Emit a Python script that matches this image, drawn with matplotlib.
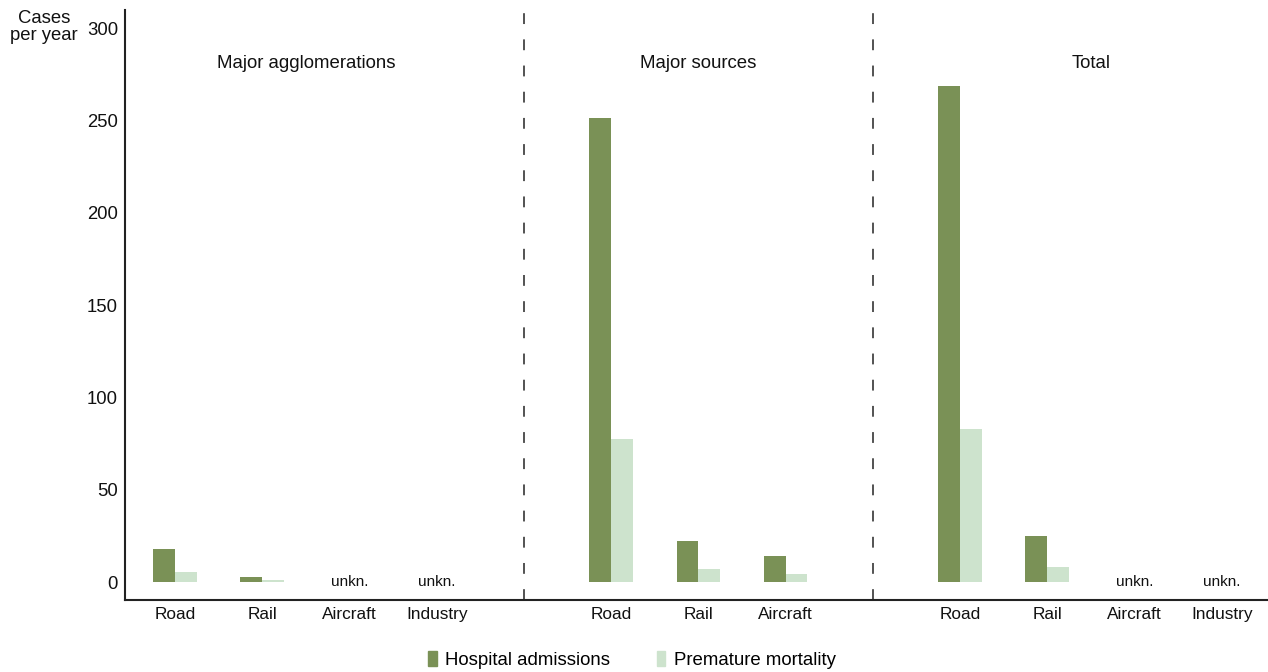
import matplotlib
matplotlib.use("Agg")
import matplotlib.pyplot as plt
from matplotlib.patches import Patch
import numpy as np

# slot positions on the x axis (gaps at 4 and 8 hold the dividers)
positions = [0, 1, 2, 3, 5, 6, 7, 9, 10, 11, 12]
categories = ["Road", "Rail", "Aircraft", "Industry",
              "Road", "Rail", "Aircraft",
              "Road", "Rail", "Aircraft", "Industry"]
# None = unknown
hospital = [17.7, 2.5, None, None, 251.4, 22.4, 13.9, 268.9, 25.1, None, None]
mortality = [5.6, 1.0, None, None, 77.3, 7.0, 4.3, 82.7, 8.1, None, None]
groups = ["Major agglomerations", "Major sources", "Total"]
group_centers = [1.5, 6, 10.5]
dividers = [4, 8]

DARK = "#7a9156"
LIGHT = "#cde3cd"
TXT = "#111111"

plt.rcParams["font.family"] = ["Liberation Sans", "DejaVu Sans"]

fig = plt.figure(figsize=(12.68, 6.72), dpi=100)
ax = fig.add_axes([125 / 1268, 72 / 672, 1 - 125 / 1268, (600 - 10) / 672])

w = 0.25
for x, h, m in zip(positions, hospital, mortality):
    if h is None:
        ax.text(x, 0, "unkn.", ha="center", va="center", fontsize=11,
                color=TXT)
        continue
    ax.bar(x - w / 2, h, width=w, color=DARK, edgecolor="none")
    ax.bar(x + w / 2, m, width=w, color=LIGHT, edgecolor="none")

for d in dividers:
    ax.axvline(d, color="#444444", lw=1.3, ls=(0, (6, 8.5)))

for name, c in zip(groups, group_centers):
    ax.text(c, 281, name, ha="center", va="center", fontsize=13.4,
            color=TXT)

ax.set_xlim(-0.573, 12.53)
ax.set_ylim(-9.75, 310)
ax.set_xticks(positions)
ax.set_xticklabels(categories, fontsize=12.4, color=TXT)
ax.set_yticks([0, 50, 100, 150, 200, 250, 300])
ax.tick_params(axis="y", length=0, pad=5, labelsize=13.3, labelcolor=TXT)
ax.tick_params(axis="x", length=0, pad=5)
for s in ("top", "right"):
    ax.spines[s].set_visible(False)
for s in ("left", "bottom"):
    ax.spines[s].set_linewidth(1.5)
    ax.spines[s].set_color("#222222")

fig.text(44 / 1268, 1 - 27 / 672, "Cases\nper year", ha="center", va="center",
         fontsize=13.3, color=TXT, linespacing=1.05)

handles = [Patch(color=DARK, label="Hospital admissions"),
           Patch(color=LIGHT, label="Premature mortality")]
fig.legend(handles=handles, loc="center", bbox_to_anchor=(632 / 1268, 1 - 660 / 672),
           ncol=2, frameon=False, fontsize=13.4, handlelength=0.45,
           handleheight=0.85, handletextpad=0.45, columnspacing=2.5)

fig.savefig("out.png", dpi=100)
